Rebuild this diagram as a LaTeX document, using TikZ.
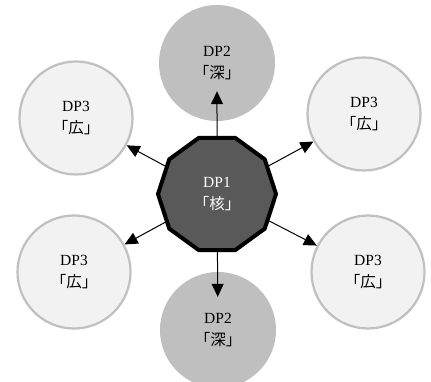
\documentclass[tikz,border=0pt]{standalone}
\usepackage{fontspec}
\setmainfont{Liberation Serif}
\newfontfamily\jp{Noto Sans CJK JP}
\usetikzlibrary{shapes.geometric,arrows.meta}
\definecolor{coredark}{HTML}{595959}
\definecolor{deepgray}{HTML}{BFBFBF}
\definecolor{widefill}{HTML}{F2F2F2}
\definecolor{wideedge}{HTML}{C0C0C0}
\tikzset{
  lbl/.style={align=center,font=\fontsize{15.5}{22}\selectfont,text=black},
  corenode/.style={regular polygon,regular polygon sides=10,minimum size=118pt,inner sep=0pt,
    fill=coredark,draw=black,line width=4pt,lbl,text=white},
  deepnode/.style={circle,minimum size=116pt,inner sep=0pt,fill=deepgray,lbl},
  widenode/.style={circle,minimum size=113pt,inner sep=0pt,fill=widefill,draw=wideedge,line width=2.2pt,lbl},
  link/.style={line width=1pt,-{Triangle[length=13pt,width=12pt]}}
}
\begin{document}
\begin{tikzpicture}[x=1pt,y=-1pt]
\fill[white] (0,0) rectangle (431,382);
\useasboundingbox (0,0) rectangle (431,382);
\node[deepnode] (t) at (217,63) {DP2\\{\jp 「深」}};
\node[deepnode] (b) at (218,330) {DP2\\{\jp 「深」}};
\node[widenode] (ul) at (76,118) {DP3\\{\jp 「広」}};
\node[widenode] (ur) at (364,114) {DP3\\{\jp 「広」}};
\node[widenode] (ll) at (74,272) {DP3\\{\jp 「広」}};
\node[widenode] (lr) at (368,272) {DP3\\{\jp 「広」}};
\node[corenode] (c) at (217,194) {DP1\\{\jp 「核」}};
\draw[link,shorten >=-30pt] (c) -- (t);
\draw[link,shorten >=-25pt] (c) -- (b);
\draw[link] (c) -- (ul);
\draw[link] (c) -- (ur);
\draw[link] (c) -- (ll);
\draw[link] (c) -- (lr);
\end{tikzpicture}
\end{document}
